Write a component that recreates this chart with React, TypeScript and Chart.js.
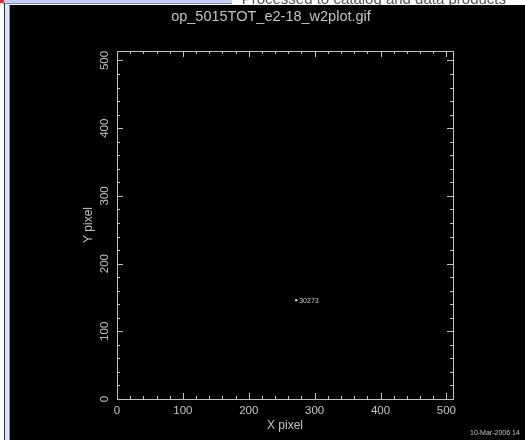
import React, { useEffect, useRef } from "react";
import { Chart, registerables } from "chart.js";

Chart.register(...registerables);

// ---- data / text ----
const plotTitle = "op_5015TOT_e2-18_w2plot.gif";
const headerText = "Processed to catalog and data products";
const dateStamp = "10-Mar-2006 14";
const xTitle = "X pixel";
const yTitle = "Y pixel";
const xRange = [0, 510];
const yRange = [0, 514];
const xMajorTicks = [0, 100, 200, 300, 400, 500];
const yMajorTicks = [0, 100, 200, 300, 400, 500];
const minorStep = 20;
const sourceX = [272];
const sourceY = [146];
const sourceLabels = ["30273"];

const FG = "#c4c4c4";

const idlPlot = {
  id: "idlPlot",
  beforeDraw(chart: any) {
    const ctx = chart.ctx as CanvasRenderingContext2D;
    const W = chart.width;
    const H = chart.height;
    ctx.save();
    ctx.fillStyle = "#ffffff";
    ctx.fillRect(0, 0, W, H);
    // top strip (browser window header remnants)
    ctx.fillStyle = "#c9d1f2";
    ctx.fillRect(3, 0, 229, 4);
    ctx.fillStyle = "#7c84c4";
    ctx.fillRect(3, 3, 229, 1);
    ctx.fillStyle = "#e03030";
    ctx.fillRect(0, 0, 4, 3);
    ctx.font = "15px 'Liberation Sans', Arial, sans-serif";
    ctx.fillStyle = "#555";
    ctx.textAlign = "right";
    ctx.textBaseline = "alphabetic";
    ctx.beginPath();
    ctx.rect(232, 0, W - 232, 5);
    ctx.clip();
    ctx.fillText(headerText, 506, 4);
    ctx.restore();
    ctx.save();
    // left window frame
    ctx.fillStyle = "#2a2a5a";
    ctx.fillRect(4, 3, 1, H - 3);
    ctx.fillStyle = "#dde4f8";
    ctx.fillRect(5, 4, 4, H - 4);
    ctx.fillStyle = "#8a8a9a";
    ctx.fillRect(9, 5, 1, H - 5);
    // black plot window
    ctx.fillStyle = "#000000";
    ctx.fillRect(10, 5, W - 10, H - 5);
    ctx.restore();
  },
  afterDraw(chart: any) {
    const ctx = chart.ctx as CanvasRenderingContext2D;
    const xs = chart.scales.x;
    const ys = chart.scales.y;
    const a = chart.chartArea;
    ctx.save();
    ctx.strokeStyle = FG;
    ctx.lineWidth = 1;
    ctx.strokeRect(
      Math.round(a.left) + 0.5,
      Math.round(a.top) + 0.5,
      Math.round(a.right - a.left),
      Math.round(a.bottom - a.top)
    );
    const line = (x1: number, y1: number, x2: number, y2: number) => {
      ctx.beginPath();
      ctx.moveTo(x1, y1);
      ctx.lineTo(x2, y2);
      ctx.stroke();
    };
    // x ticks
    for (let v = xRange[0]; v <= xRange[1]; v += minorStep) {
      const major = xMajorTicks.includes(v);
      const len = major ? 6 : 3;
      const px = Math.round(xs.getPixelForValue(v)) + 0.5;
      line(px, a.bottom, px, a.bottom - len);
      line(px, a.top, px, a.top + len);
    }
    for (let v = yRange[0]; v <= yRange[1]; v += minorStep) {
      const major = yMajorTicks.includes(v);
      const len = major ? 6 : 3;
      const py = Math.round(ys.getPixelForValue(v)) + 0.5;
      line(a.left, py, a.left + len, py);
      line(a.right, py, a.right - len, py);
    }
    ctx.fillStyle = FG;
    ctx.font = "11.5px 'Liberation Sans', Arial, sans-serif";
    ctx.textAlign = "center";
    ctx.textBaseline = "middle";
    xMajorTicks.forEach((v) => {
      ctx.fillText(String(v), xs.getPixelForValue(v), a.bottom + 12);
    });
    yMajorTicks.forEach((v) => {
      ctx.save();
      ctx.translate(a.left - 12, ys.getPixelForValue(v));
      ctx.rotate(-Math.PI / 2);
      ctx.fillText(String(v), 0, 0);
      ctx.restore();
    });
    // axis titles
    ctx.font = "12px 'Liberation Sans', Arial, sans-serif";
    ctx.fillText(xTitle, (a.left + a.right) / 2, a.bottom + 27);
    ctx.save();
    ctx.translate(a.left - 28, (a.top + a.bottom) / 2);
    ctx.rotate(-Math.PI / 2);
    ctx.fillText(yTitle, 0, 0);
    ctx.restore();
    // plot title
    ctx.font = "14.5px 'Liberation Sans', Arial, sans-serif";
    ctx.fillText(plotTitle, 271, 17);
    // date stamp
    ctx.font = "7px 'Liberation Sans', Arial, sans-serif";
    ctx.textAlign = "left";
    ctx.fillText(dateStamp, 470, 433);
    // source labels
    ctx.font = "7px 'Liberation Sans', Arial, sans-serif";
    ctx.textBaseline = "alphabetic";
    sourceLabels.forEach((lab, i) => {
      const px = xs.getPixelForValue(sourceX[i]);
      const py = ys.getPixelForValue(sourceY[i]);
      ctx.fillText(lab, px + 3, py + 3);
    });
    ctx.restore();
  },
};

export default function App() {
  const ref = useRef<HTMLCanvasElement>(null);
  useEffect(() => {
    if (!ref.current) return;
    const chart = new Chart(ref.current, {
      type: "scatter",
      data: {
        datasets: [
          {
            data: sourceX.map((x, i) => ({ x, y: sourceY[i] })),
            pointRadius: 1.2,
            pointBackgroundColor: "#e0e0e0",
            pointBorderWidth: 0,
            borderWidth: 0,
          },
        ],
      },
      options: {
        animation: false,
        responsive: false,
        devicePixelRatio: 1,
        events: [],
        layout: { padding: { left: 117, top: 51, right: 72, bottom: 41 } },
        scales: {
          x: { type: "linear", min: xRange[0], max: xRange[1], display: false },
          y: { type: "linear", min: yRange[0], max: yRange[1], display: false },
        },
        plugins: { legend: { display: false }, tooltip: { enabled: false }, title: { display: false } },
      },
      plugins: [idlPlot],
    });
    return () => chart.destroy();
  }, []);
  return (
    <div style={{ position: "fixed", left: 0, top: 0, width: 525, height: 440 }}>
      <canvas ref={ref} width={525} height={440} style={{ display: "block" }} />
    </div>
  );
}
